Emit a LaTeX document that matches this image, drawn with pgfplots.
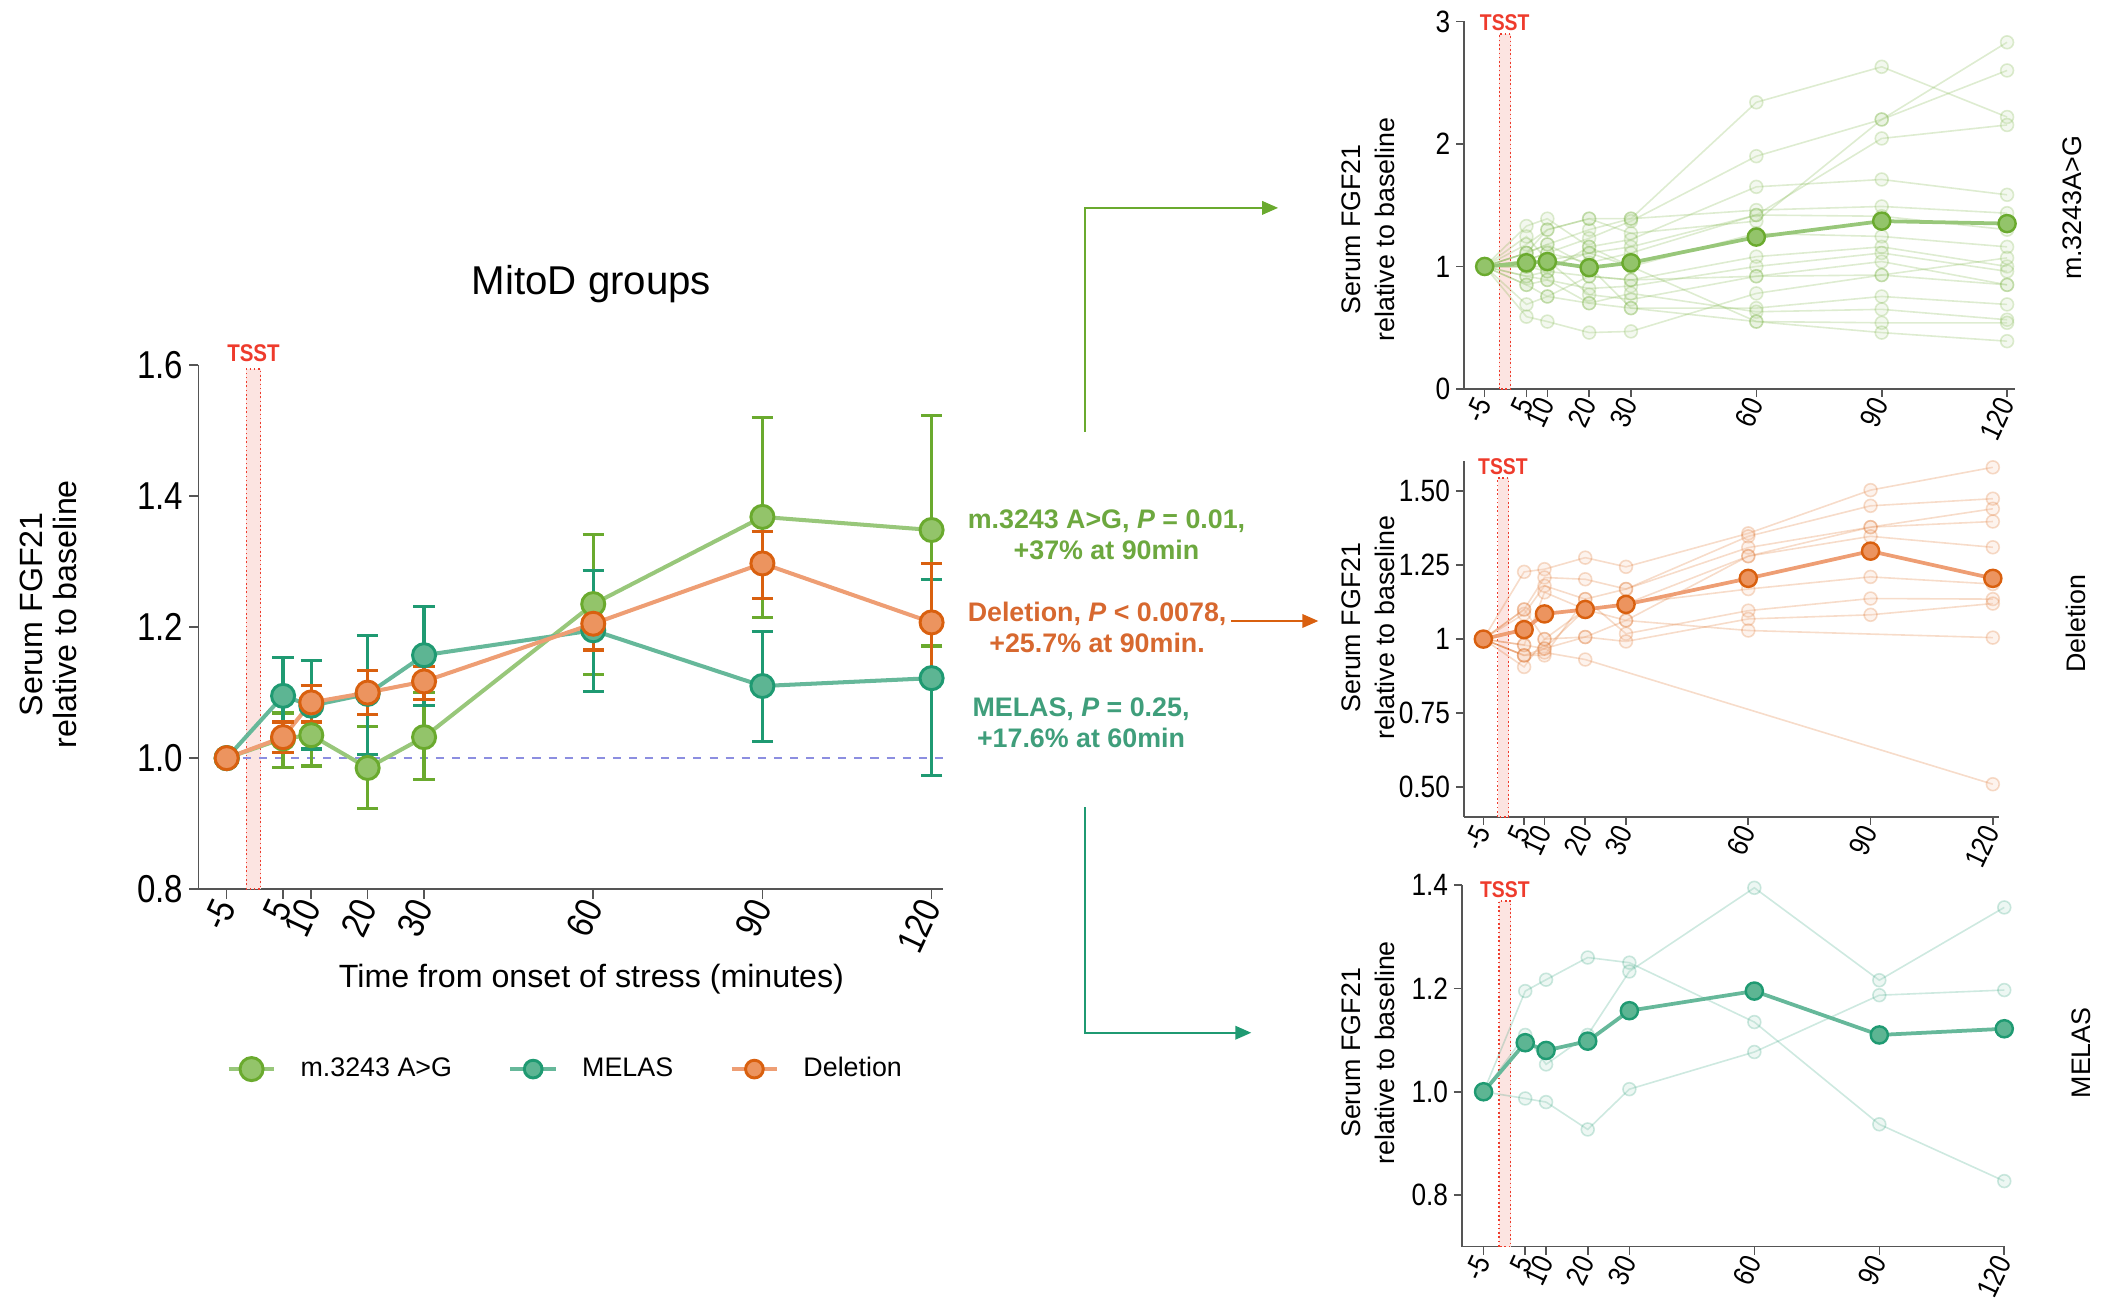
\documentclass[border=0pt]{standalone}
\usepackage{fontspec}
\setmainfont{Liberation Sans}
\newfontfamily\narrowfont[FakeStretch=0.85]{Liberation Sans}
\usepackage{pgfplots}
\pgfplotsset{compat=1.18}
\usetikzlibrary{arrows.meta}

\definecolor{gLine}{HTML}{98C77A}
\definecolor{gFill}{HTML}{93C46A}
\definecolor{gEdge}{HTML}{6AAA2E}
\definecolor{tLine}{HTML}{66B89A}
\definecolor{tFill}{HTML}{5DB593}
\definecolor{tEdge}{HTML}{1F9A72}
\definecolor{oLine}{HTML}{EE9E74}
\definecolor{oFill}{HTML}{EC945F}
\definecolor{oEdge}{HTML}{D9600F}
\definecolor{tsstRed}{HTML}{EE3B2C}
\definecolor{tsstFill}{HTML}{FCE4E1}
\definecolor{axGray}{HTML}{555555}
\definecolor{dashBlue}{HTML}{8C8EE0}
\definecolor{gText}{HTML}{6DA83F}
\definecolor{oText}{HTML}{D7682F}
\definecolor{tText}{HTML}{3F9E7B}

\pgfplotsset{
  panel/.style={scale only axis, anchor=south west, axis lines*=left,
    axis line style={axGray, line width=0.6pt}, tick align=outside,
    tick style={axGray, line width=0.6pt}, major tick length=3pt,
    xtick={-5,5,10,20,30,60,90,120}, xticklabels={-5,5,10,20,30,60,90,120},
    xticklabel style={rotate=65, anchor=east, inner sep=1pt, font=\narrowfont\fontsize{11}{11}\selectfont},
    yticklabel style={inner sep=2pt, font=\narrowfont\fontsize{11.5}{11.5}\selectfont},
    clip=false},
  indG/.style={gEdge, opacity=0.22, line width=0.6pt, mark=*, mark size=2.4pt, mark options={fill=gFill!50}},
  indO/.style={oEdge, opacity=0.22, line width=0.6pt, mark=*, mark size=2.4pt, mark options={fill=oFill!50}},
  indT/.style={tEdge, opacity=0.22, line width=0.6pt, mark=*, mark size=2.4pt, mark options={fill=tFill!50}},
}

\pgfplotstableread{
t m ep em
-5 1.000 0 0
5 1.030 0.039 0.044
10 1.035 0.047 0.047
20 0.985 0.063 0.062
30 1.032 0.068 0.065
60 1.235 0.106 0.107
90 1.368 0.152 0.153
120 1.348 0.175 0.177
}\tabG
\pgfplotstableread{
t m ep em
-5 1.000 0 0
5 1.095 0.058 0.060
10 1.080 0.069 0.066
20 1.098 0.089 0.093
30 1.157 0.074 0.077
60 1.195 0.091 0.093
90 1.110 0.083 0.085
120 1.122 0.150 0.148
}\tabT
\pgfplotstableread{
t m ep em
-5 1.000 0 0
5 1.032 0.023 0.023
10 1.085 0.026 0.030
20 1.100 0.034 0.034
30 1.117 0.023 0.027
60 1.205 0.039 0.040
90 1.297 0.049 0.053
120 1.207 0.090 0.095
}\tabO

\begin{document}
\begin{tikzpicture}
\path[use as bounding box] (0pt,0pt) rectangle (784pt,-484.5pt);

% ---------------- main panel ----------------
\begin{axis}[panel, at={(74pt,-331.5pt)}, width=277.5pt, height=195.5pt,
  xmin=-10, xmax=122, ymin=0.8, ymax=1.6,
  major tick length=3.5pt,
  ytick={0.8,1.0,1.2,1.4,1.6}, yticklabels={0.8,1.0,1.2,1.4,1.6},
  yticklabel style={font=\narrowfont\fontsize{14.5}{14.5}\selectfont},
  xticklabel style={font=\narrowfont\fontsize{14}{14}\selectfont},
  legend columns=3,
  legend style={draw=none, fill=none, at={(0.495,-0.343)}, anchor=center,
    font=\fontsize{10}{12}\selectfont,
    /tikz/every odd column/.append style={column sep=7pt},
    /tikz/every even column/.append style={column sep=19pt}},
  ]
  \fill[tsstFill] (axis cs:-1.5,0.8) rectangle (axis cs:1,1.594);
  \draw[tsstRed, densely dotted, line width=0.6pt] (axis cs:-1.5,0.8) rectangle (axis cs:1,1.594);
  \node[tsstRed, anchor=south, inner sep=1pt, font=\narrowfont\bfseries\fontsize{9}{9}\selectfont] at (axis cs:-0.25,1.60) {TSST};
  \addplot[dashBlue, dashed, line width=0.6pt, forget plot] coordinates {(-5,1) (122,1)};

  \addplot[gLine, line width=1.5pt, mark=*, mark size=4.3pt, mark options={fill=gFill, draw=gEdge, line width=1.1pt},
    error bars/.cd, y dir=both, y explicit, error bar style={gEdge, line width=1.2pt},
    error mark options={rotate=90, gEdge, mark size=4pt, line width=1.2pt}]
    table[x=t, y=m, y error plus=ep, y error minus=em] {\tabG};
  \addlegendentry{m.3243 A>G}
  \addplot[tLine, line width=1.5pt, mark=*, mark size=4.3pt, mark options={fill=tFill, draw=tEdge, line width=1.1pt},
    legend image post style={mark size=3.3pt},
    error bars/.cd, y dir=both, y explicit, error bar style={tEdge, line width=1.2pt},
    error mark options={rotate=90, tEdge, mark size=4pt, line width=1.2pt}]
    table[x=t, y=m, y error plus=ep, y error minus=em] {\tabT};
  \addlegendentry{MELAS}
  \addplot[oLine, line width=1.5pt, mark=*, mark size=4.3pt, mark options={fill=oFill, draw=oEdge, line width=1.1pt},
    legend image post style={mark size=3.3pt},
    error bars/.cd, y dir=both, y explicit, error bar style={oEdge, line width=1.2pt},
    error mark options={rotate=90, oEdge, mark size=4pt, line width=1.2pt}]
    table[x=t, y=m, y error plus=ep, y error minus=em] {\tabO};
  \addlegendentry{Deletion}
\end{axis}

\node[font=\fontsize{15}{15}\selectfont] at (220.5pt,-106pt) {MitoD groups};
\node[font=\fontsize{12}{12}\selectfont] at (220.5pt,-365pt) {Time from onset of stress (minutes)};
\node[rotate=90, align=center, font=\fontsize{12}{12.5}\selectfont] at (18pt,-229pt) {Serum FGF21\\relative to baseline};

% annotations
\node[gText, align=center, font=\bfseries\fontsize{10}{11.5}\selectfont] at (412.5pt,-199.25pt) {m.3243 A>G, \textit{P} = 0.01,\\+37\% at 90min};
\node[oText, align=center, font=\bfseries\fontsize{10}{11.5}\selectfont] at (409pt,-233.75pt) {Deletion, \textit{P} < 0.0078,\\+25.7\% at 90min.};
\node[tText, align=center, font=\bfseries\fontsize{10}{11.5}\selectfont] at (403pt,-269.5pt) {MELAS, \textit{P} = 0.25,\\+17.6\% at 60min};

\draw[gEdge, line width=0.9pt, -{Triangle[length=6pt,width=5pt]}] (404.5pt,-161pt) -- (404.5pt,-77.5pt) -- (476.5pt,-77.5pt);
\draw[oEdge, line width=0.9pt, -{Triangle[length=6pt,width=5pt]}] (459pt,-231.5pt) -- (491.5pt,-231.5pt);
\draw[tEdge, line width=0.9pt, -{Triangle[length=6pt,width=5pt]}] (404.5pt,-301pt) -- (404.5pt,-385pt) -- (466.5pt,-385pt);

% ---------------- top right: m.3243A>G ----------------
\begin{axis}[panel, at={(545.85pt,-145pt)}, width=205.5pt, height=137pt,
  xmin=-9.9, xmax=122, ymin=0, ymax=3,
  ytick={0,1,2,3}, yticklabels={0,1,2,3}]
  \fill[tsstFill] (axis cs:-1.5,0) rectangle (axis cs:1.2,2.9);
  \draw[tsstRed, densely dotted, line width=0.6pt] (axis cs:-1.5,0) rectangle (axis cs:1.2,2.9);
  \node[tsstRed, anchor=south, inner sep=1pt, font=\narrowfont\bfseries\fontsize{8.5}{8.5}\selectfont] at (axis cs:-0.2,2.9) {TSST};
  \addplot[indG] coordinates {(-5,1)(5,1.11)(10,1.18)(20,1.30)(30,1.39)(60,2.34)(90,2.63)(120,2.22)};
  \addplot[indG] coordinates {(-5,1)(5,1.05)(10,1.11)(20,1.23)(30,1.37)(60,1.90)(90,2.20)(120,2.60)};
  \addplot[indG] coordinates {(-5,1)(5,1.18)(10,1.30)(20,1.39)(30,1.27)(60,1.37)(90,2.20)(120,2.83)};
  \addplot[indG] coordinates {(-5,1)(5,1.33)(10,1.39)(20,1.16)(30,1.22)(60,1.65)(90,1.71)(120,1.585)};
  \addplot[indG] coordinates {(-5,1)(5,1.245)(10,1.05)(20,1.11)(30,1.16)(60,1.42)(90,2.045)(120,2.155)};
  \addplot[indG] coordinates {(-5,1)(5,1.11)(10,1.30)(20,1.39)(30,1.39)(60,1.46)(90,1.49)(120,1.435)};
  \addplot[indG] coordinates {(-5,1)(5,1.05)(10,1.11)(20,1.03)(30,1.11)(60,1.42)(90,1.41)(120,1.30)};
  \addplot[indG] coordinates {(-5,1)(5,1.0)(10,1.0)(20,1.11)(30,1.0)(60,1.27)(90,1.245)(120,1.16)};
  \addplot[indG] coordinates {(-5,1)(5,0.92)(10,0.96)(20,0.92)(30,0.89)(60,1.08)(90,1.16)(120,1.0)};
  \addplot[indG] coordinates {(-5,1)(5,0.85)(10,0.89)(20,0.82)(30,0.84)(60,1.0)(90,1.11)(120,0.96)};
  \addplot[indG] coordinates {(-5,1)(5,1.0)(10,1.05)(20,0.77)(30,0.73)(60,0.92)(90,1.04)(120,0.85)};
  \addplot[indG] coordinates {(-5,1)(5,0.69)(10,0.755)(20,0.70)(30,0.66)(60,0.66)(90,0.755)(120,0.69)};
  \addplot[indG] coordinates {(-5,1)(5,0.59)(10,0.55)(20,0.46)(30,0.47)(60,0.78)(90,0.93)(120,1.07)};
  \addplot[indG] coordinates {(-5,1)(5,0.92)(10,0.89)(20,0.70)(30,0.78)(60,0.63)(90,0.65)(120,0.565)};
  \addplot[indG] coordinates {(-5,1)(5,1.0)(10,0.96)(20,1.16)(30,1.0)(60,0.55)(90,0.54)(120,0.54)};
  \addplot[indG] coordinates {(-5,1)(5,1.11)(10,1.18)(20,1.0)(30,0.66)(60,0.55)(90,0.46)(120,0.39)};
  \addplot[indG] coordinates {(-5,1)(5,0.85)(10,0.755)(20,0.92)(30,0.89)(60,0.92)(90,0.93)(120,0.85)};
  \addplot[gLine, line width=1.4pt, mark=*, mark size=3.2pt, mark options={fill=gFill, draw=gEdge, line width=0.9pt}]
    coordinates {(-5,1)(5,1.03)(10,1.04)(20,0.99)(30,1.03)(60,1.24)(90,1.37)(120,1.35)};
\end{axis}

% ---------------- middle right: Deletion ----------------
\begin{axis}[panel, at={(545.7pt,-304.5pt)}, width=199.5pt, height=132.5pt,
  xmin=-9.8, xmax=121.5, ymin=0.40, ymax=1.60,
  ytick={0.5,0.75,1,1.25,1.5}, yticklabels={0.50,0.75,1,1.25,1.50}]
  \fill[tsstFill] (axis cs:-1.5,0.4) rectangle (axis cs:1.2,1.543);
  \draw[tsstRed, densely dotted, line width=0.6pt] (axis cs:-1.5,0.4) rectangle (axis cs:1.2,1.543);
  \node[tsstRed, anchor=south, inner sep=1pt, font=\narrowfont\bfseries\fontsize{8.5}{8.5}\selectfont] at (axis cs:-0.2,1.543) {TSST};
  \addplot[indO] coordinates {(-5,1)(5,1.227)(10,1.236)(20,1.275)(30,1.244)(60,1.357)(90,1.503)(120,1.58)};
  \addplot[indO] coordinates {(-5,1)(5,1.10)(10,1.208)(20,1.202)(30,1.169)(60,1.347)(90,1.45)(120,1.474)};
  \addplot[indO] coordinates {(-5,1)(5,1.085)(10,1.18)(20,1.135)(30,1.169)(60,1.309)(90,1.378)(120,1.44)};
  \addplot[indO] coordinates {(-5,1)(5,0.98)(10,1.158)(20,1.10)(30,1.119)(60,1.28)(90,1.378)(120,1.397)};
  \addplot[indO] coordinates {(-5,1)(5,0.945)(10,0.968)(20,1.007)(30,1.063)(60,1.28)(90,1.347)(120,1.31)};
  \addplot[indO] coordinates {(-5,1)(5,1.10)(10,1.0)(20,1.10)(30,1.119)(60,1.169)(90,1.21)(120,1.186)};
  \addplot[indO] coordinates {(-5,1)(5,0.945)(10,0.945)(20,1.135)(30,1.018)(60,1.096)(90,1.137)(120,1.135)};
  \addplot[indO] coordinates {(-5,1)(5,0.906)(10,1.0)(20,1.007)(30,0.992)(60,1.068)(90,1.082)(120,1.12)};
  \addplot[indO] coordinates {(-5,1)(5,0.98)(10,0.968)(20,1.10)(30,1.063)(60,1.029)(120,1.005)};
  \addplot[indO] coordinates {(-5,1)(5,0.945)(10,0.955)(20,0.931)(120,0.51)};
  \addplot[oLine, line width=1.4pt, mark=*, mark size=3.2pt, mark options={fill=oFill, draw=oEdge, line width=0.9pt}]
    coordinates {(-5,1)(5,1.032)(10,1.085)(20,1.10)(30,1.117)(60,1.205)(90,1.297)(120,1.205)};
\end{axis}

% ---------------- bottom right: MELAS ----------------
\begin{axis}[panel, at={(545pt,-464.75pt)}, width=202.5pt, height=134.75pt,
  xmin=-10.2, xmax=120.2, ymin=0.70, ymax=1.40,
  ytick={0.8,1.0,1.2,1.4}, yticklabels={0.8,1.0,1.2,1.4}]
  \fill[tsstFill] (axis cs:-1.3,0.7) rectangle (axis cs:1.5,1.37);
  \draw[tsstRed, densely dotted, line width=0.6pt] (axis cs:-1.3,0.7) rectangle (axis cs:1.5,1.37);
  \node[tsstRed, anchor=south, inner sep=1pt, font=\narrowfont\bfseries\fontsize{8.5}{8.5}\selectfont] at (axis cs:0.1,1.37) {TSST};
  \addplot[indT] coordinates {(-5,1)(5,1.195)(10,1.217)(20,1.26)(30,1.25)(60,1.135)(90,0.937)(120,0.827)};
  \addplot[indT] coordinates {(-5,1)(5,0.987)(10,0.98)(20,0.927)(30,1.005)(60,1.077)(90,1.187)(120,1.197)};
  \addplot[indT] coordinates {(-5,1)(5,1.11)(10,1.053)(20,1.11)(30,1.233)(60,1.395)(90,1.216)(120,1.357)};
  \addplot[tLine, line width=1.4pt, mark=*, mark size=3.2pt, mark options={fill=tFill, draw=tEdge, line width=0.9pt}]
    coordinates {(-5,1)(5,1.095)(10,1.08)(20,1.098)(30,1.157)(60,1.195)(90,1.11)(120,1.122)};
\end{axis}

\node[rotate=90, align=center, font=\fontsize{10}{12.5}\selectfont] at (510pt,-85.5pt) {Serum FGF21\\relative to baseline};
\node[rotate=90, align=center, font=\fontsize{10}{12.5}\selectfont] at (510pt,-234pt) {Serum FGF21\\relative to baseline};
\node[rotate=90, align=center, font=\fontsize{10}{12.5}\selectfont] at (510pt,-392.5pt) {Serum FGF21\\relative to baseline};
\node[rotate=90, font=\fontsize{10}{12}\selectfont] at (772.5pt,-77.5pt) {m.3243A>G};
\node[rotate=90, font=\fontsize{10}{12}\selectfont] at (774pt,-232.5pt) {Deletion};
\node[rotate=90, font=\fontsize{10}{12}\selectfont] at (776pt,-392.5pt) {MELAS};
\end{tikzpicture}
\end{document}
